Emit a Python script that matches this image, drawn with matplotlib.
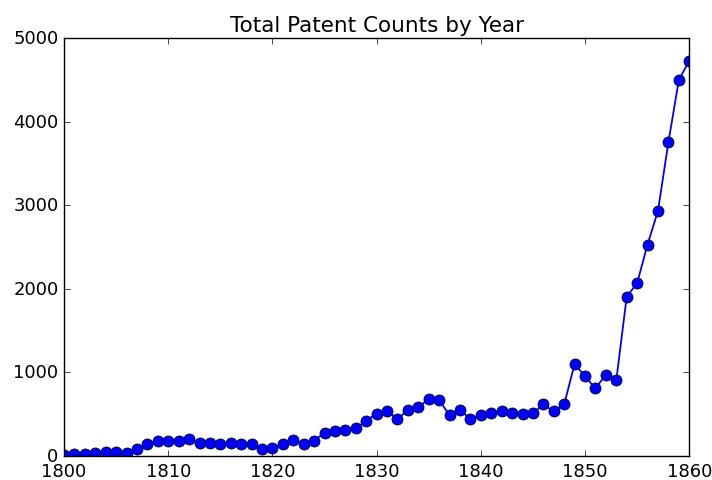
import matplotlib
matplotlib.use('Agg')
import matplotlib.pyplot as plt

plt.style.use('classic')

years = list(range(1800, 1861))
counts = [12, 28, 20, 36, 52, 52, 36, 80, 143, 180,
          176, 176, 207, 160, 156, 140, 160, 140, 140, 80,
          95, 147, 188, 147, 183, 279, 295, 315, 331, 423,
          506, 538, 439, 554, 582, 682, 666, 487, 554, 439,
          488, 512, 532, 512, 496, 512, 616, 532, 616, 1100,
          952, 808, 972, 904, 1904, 2068, 2528, 2931, 3750, 4496,
          4726]

fig = plt.figure(figsize=(7.12, 4.81), dpi=100, facecolor='white')
ax = fig.add_axes([0.090, 0.050, 0.878, 0.869])
ax.plot(years, counts, 'bo-', markersize=8, linewidth=1.3)
ax.set_xlim(1800, 1860)
ax.set_ylim(0, 5000)
ax.ticklabel_format(useOffset=False)
ax.tick_params(labelsize=13)
ax.set_title('Total Patent Counts by Year', fontsize=15.5)

fig.savefig('out.png', dpi=100, facecolor='white')
